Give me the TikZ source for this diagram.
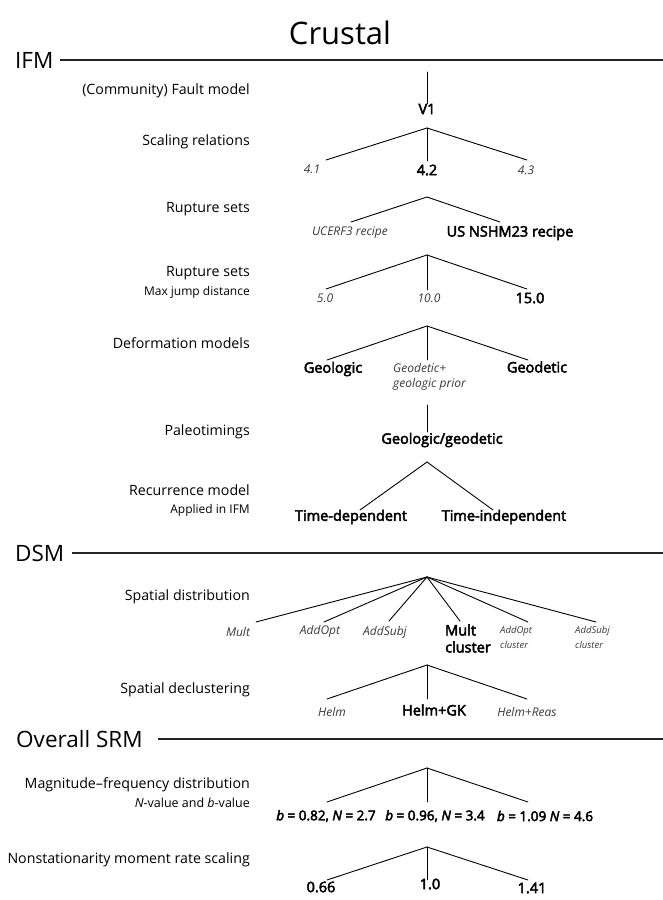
\documentclass[tikz,border=0pt]{standalone}
\usepackage{fontspec}
\setmainfont{Open Sans}[AutoFakeBold=3.2,
  BoldItalicFont={Open Sans Italic}, BoldItalicFeatures={FakeBold=3.2}]
\usetikzlibrary{calc}
\definecolor{ink}{HTML}{000000}
\definecolor{soft}{HTML}{3A3A3A}
\definecolor{rulec}{HTML}{262626}
\tikzset{
  title/.style={text=ink, font=\fontsize{31}{36}\selectfont, inner sep=0pt},
  head/.style={text=ink, font=\fontsize{22.5}{26}\selectfont, inner sep=0pt, anchor=west},
  lab/.style={text=ink, font=\fontsize{14.2}{17}\selectfont, inner sep=0pt, anchor=east},
  labs/.style={text=ink, font=\fontsize{12}{14}\selectfont, inner sep=0pt, anchor=east},
  opt/.style={text=soft, font=\fontsize{12}{15}\selectfont\itshape, inner sep=0pt, align=left},
  optsm/.style={text=soft, font=\fontsize{9.5}{15}\selectfont\itshape, inner sep=0pt, align=left},
  pick/.style={text=ink, font=\fontsize{14.5}{17}\selectfont\bfseries, inner sep=0pt, align=left},
  pickb/.style={text=ink, font=\fontsize{13.5}{16}\selectfont\bfseries, inner sep=0pt},
  br/.style={draw=ink, line width=0.9pt, line cap=round},
  rule/.style={draw=rulec, line width=1.3pt},
}
\begin{document}
\begin{tikzpicture}[x=1pt,y=-1pt]
  \fill[white] (0,0) rectangle (663,900);
  \useasboundingbox (0,0) rectangle (663,900);

  \node[title] (crustal) at (340,33) {Crustal};

  % IFM
  \node[head] (ifm) at (15,60) {IFM};
  \coordinate (ifmS) at (60,60);
  \coordinate (ifmE) at (663,60);
  \draw[rule] (ifmS) -- (ifmE);

  \node[lab] (fault) at (250,91) {(Community) Fault model};
  \coordinate (fltT) at (427,72);
  \node[pick] (v1) at (427,109) {V1};
  \draw[br] (fltT) -- (v1.north);

  \node[lab] (scal) at (250,142) {Scaling relations};
  \coordinate (scA) at (427,128);
  \coordinate (scL) at (326,160);
  \coordinate (scM) at (427,161);
  \coordinate (scR) at (527,160);
  \node[opt] (s41) at (312,169) {4.1};
  \node[pick] (s42) at (427,170) {4.2};
  \node[opt] (s43) at (526,170) {4.3};
  \draw[br] (scA) -- (scL);
  \draw[br] (scA) -- (scM);
  \draw[br] (scA) -- (scR);

  \node[lab] (rup) at (250,209) {Rupture sets};
  \coordinate (ruA) at (427,197);
  \coordinate (ruL) at (351,222);
  \coordinate (ruR) at (500,222);
  \node[opt] (ucerf) at (350,233) {UCERF3 recipe};
  \node[pick] (nshm) at (510,233) {US NSHM23 recipe};
  \draw[br] (ruA) -- (ruL);
  \draw[br] (ruA) -- (ruR);

  \node[lab] (rup2) at (250,273) {Rupture sets};
  \node[labs] (jump) at (250,292) {Max jump distance};
  \coordinate (jmA) at (427,255);
  \coordinate (jmL) at (326,289);
  \coordinate (jmM) at (427,290);
  \coordinate (jmR) at (527,289);
  \node[opt] (j5) at (325,298) {5.0};
  \node[opt] (j10) at (429,298) {10.0};
  \node[pick] (j15) at (530,298) {15.0};
  \draw[br] (jmA) -- (jmL);
  \draw[br] (jmA) -- (jmM);
  \draw[br] (jmA) -- (jmR);

  \node[lab] (defm) at (250,343) {Deformation models};
  \coordinate (dfA) at (427,326);
  \coordinate (dfL) at (327,360);
  \coordinate (dfM) at (427,360);
  \coordinate (dfR) at (528,360);
  \node[pick] (geol) at (333,369) {Geologic};
  \node[opt, anchor=west] (gprior) at (393,376.5) {Geodetic+\\geologic prior};
  \node[pick] (geod) at (537,367) {Geodetic};
  \draw[br] (dfA) -- (dfL);
  \draw[br] (dfA) -- (dfM);
  \draw[br] (dfA) -- (dfR);

  \node[lab] (paleo) at (250,432) {Paleotimings};
  \coordinate (plT) at (427,405);
  \coordinate (plB) at (427,432);
  \node[pick] (gg) at (442,440) {Geologic/geodetic};
  \draw[br] (plT) -- (plB);

  \node[lab] (recur) at (250,490) {Recurrence model};
  \node[labs] (appl) at (250,510) {Applied in IFM};
  \coordinate (rcA) at (427,462);
  \coordinate (rcL) at (360,510);
  \coordinate (rcR) at (493,510);
  \node[pick] (tdep) at (351,517) {Time-dependent};
  \node[pick] (tind) at (504,517) {Time-independent};
  \draw[br] (rcA) -- (rcL);
  \draw[br] (rcA) -- (rcR);

  % DSM
  \node[head] (dsm) at (15,553) {DSM};
  \coordinate (dsmS) at (72,553);
  \coordinate (dsmE) at (663,553);
  \draw[rule] (dsmS) -- (dsmE);

  \node[lab] (sdist) at (250,597) {Spatial distribution};
  \coordinate (sdA) at (427,577);
  \coordinate (sd1) at (256,622);
  \coordinate (sd2) at (324,622);
  \coordinate (sd3) at (389,621);
  \coordinate (sd4) at (460,621);
  \coordinate (sd5) at (528,622);
  \coordinate (sd6) at (596,622);
  \node[opt] (mult) at (238,632) {Mult};
  \node[opt] (aopt) at (320,631) {AddOpt};
  \node[opt] (asub) at (385,632) {AddSubj};
  \node[pick, anchor=west] (multc) at (445,638.5) {Mult\\cluster};
  \node[optsm, anchor=west] (aoptc) at (500,637.5) {AddOpt\\cluster};
  \node[optsm, anchor=west] (asubc) at (575,637.5) {AddSubj\\cluster};
  \foreach \e in {sd1,sd2,sd3,sd4,sd5,sd6}
    \draw[br] (sdA) -- (\e);

  \node[lab] (decl) at (250,690) {Spatial declustering};
  \coordinate (dcA) at (427,665);
  \coordinate (dcL) at (327,699);
  \coordinate (dcM) at (427,699);
  \coordinate (dcR) at (527,699);
  \node[opt] (helm) at (332,712) {Helm};
  \node[pick] (hgk) at (434,710) {Helm+GK};
  \node[opt] (hreas) at (527,712) {Helm+Reas};
  \draw[br] (dcA) -- (dcL);
  \draw[br] (dcA) -- (dcM);
  \draw[br] (dcA) -- (dcR);

  % Overall SRM
  \node[head] (srm) at (16,739) {Overall SRM};
  \coordinate (srmS) at (158,739);
  \coordinate (srmE) at (663,739);
  \draw[rule] (srmS) -- (srmE);

  \node[lab] (mfd) at (250,785) {Magnitude–frequency distribution};
  \node[labs, font=\fontsize{12.5}{15}\selectfont] (nb) at (250,803) {\textit{N}-value and \textit{b}-value};
  \coordinate (mfA) at (427,768);
  \coordinate (mfL) at (327,802);
  \coordinate (mfM) at (427,802);
  \coordinate (mfR) at (528,802);
  \node[pickb] (b1) at (326,816) {\textit{b} = 0.82, \textit{N} = 2.7};
  \node[pickb] (b2) at (435,816) {\textit{b} = 0.96, \textit{N} = 3.4};
  \node[pickb] (b3) at (545,816) {\textit{b} = 1.09 \textit{N} = 4.6};
  \draw[br] (mfA) -- (mfL);
  \draw[br] (mfA) -- (mfM);
  \draw[br] (mfA) -- (mfR);

  \node[lab] (nonst) at (250,860) {Nonstationarity moment rate scaling};
  \coordinate (nsA) at (427,847);
  \coordinate (nsL) at (327,880);
  \coordinate (nsM) at (427,880);
  \coordinate (nsR) at (528,880);
  \node[pick] (r066) at (321,887) {0.66};
  \node[pick] (r10) at (430,884) {1.0};
  \node[pick] (r141) at (532,888) {1.41};
  \draw[br] (nsA) -- (nsL);
  \draw[br] (nsA) -- (nsM);
  \draw[br] (nsA) -- (nsR);
\end{tikzpicture}
\end{document}
